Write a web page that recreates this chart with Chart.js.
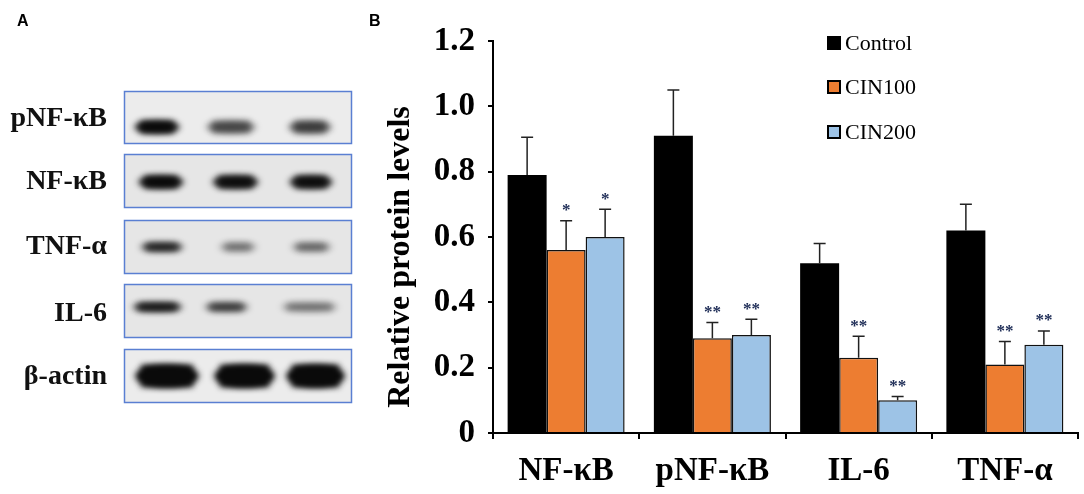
<!DOCTYPE html>
<html>
<head>
<meta charset="utf-8">
<script src="https://cdn.jsdelivr.net/npm/chart.js@4.4.1/dist/chart.umd.min.js"></script>
<style>
  html, body { margin: 0; padding: 0; background: #fff; }
  #wrap { position: relative; width: 1084px; height: 494px; overflow: hidden; }
  #blot { position: absolute; left: 0; top: 0; }
  #chart { position: absolute; left: 370px; top: 0; }
  .panel { position: absolute; font: bold 16px "Liberation Sans", Arial, sans-serif; }
  .blotLabel {
    position: absolute; right: 977px; width: 120px; text-align: right;
    font: bold 28px "Liberation Serif", "Times New Roman", serif;
    line-height: 28px; color: #111;
  }
</style>
</head>
<body>
<div id="wrap">
  <canvas id="blot" width="370" height="494"></canvas>
  <canvas id="chart" width="714" height="494"></canvas>
  <div class="panel" style="left:17px;top:12px">A</div>
  <div class="panel" style="left:369px;top:12px">B</div>
</div>
<script>
// ───────────────
// Panel B data
const categories    = ['NF-κB', 'pNF-κB', 'IL-6', 'TNF-α'];
const seriesNames   = ['Control', 'CIN100', 'CIN200'];
const controlValues = [0.79, 0.91, 0.52, 0.62];
const cin100Values  = [0.56, 0.29, 0.23, 0.21];
const cin200Values  = [0.60, 0.30, 0.10, 0.27];
const controlErrors = [0.115, 0.14, 0.06, 0.08];
const cin100Errors  = [0.09, 0.048, 0.066, 0.07];
const cin200Errors  = [0.085, 0.048, 0.012, 0.042];
const controlMarks  = ['', '', '', ''];
const cin100Marks   = ['*', '**', '**', '**'];
const cin200Marks   = ['*', '**', '**', '**'];
const yTickValues   = [0, 0.2, 0.4, 0.6, 0.8, 1.0, 1.2];
const yTitle        = 'Relative protein levels';

// Panel A: blot rows and relative band darkness per lane
const blotRows   = ['pNF-κB', 'NF-κB', 'TNF-α', 'IL-6', 'β-actin'];
const bandLevels = [
  [0.95, 0.5, 0.55],
  [0.95, 0.9, 0.9],
  [0.75, 0.35, 0.4],
  [0.85, 0.6, 0.35],
  [1.0, 1.0, 1.0]
];

// ───────────────
// Panel A drawing (plain canvas)
const rowBoxes  = [[91, 143], [154, 207], [220, 273], [284, 337], [349, 402]];
const bandY     = [127, 182, 247, 307, 376];
const bandThick = [12, 12, 8, 8, 22];
const laneSpans = [
  [[134, 180], [206, 256], [288, 332]],
  [[138, 184], [212, 259], [289, 333]],
  [[140, 184], [219, 257], [291, 332]],
  [[132, 183], [204, 249], [281, 338]],
  [[135, 199], [214, 275], [286, 345]]
];

function drawBlot() {
  const c = document.getElementById('blot').getContext('2d');
  rowBoxes.forEach(([y0, y1], r) => {
    c.fillStyle = r === 0 || r === 4 ? '#ececec' : '#e6e6e6';
    c.fillRect(124, y0, 228, y1 - y0);
    c.save();
    c.beginPath();
    c.rect(124, y0, 228, y1 - y0);
    c.clip();
    c.filter = 'blur(3px)';
    laneSpans[r].forEach(([x0, x1], i) => {
      const a = bandLevels[r][i];
      c.fillStyle = `rgba(10,10,10,${a})`;
      const h = bandThick[r];
      c.beginPath();
      c.ellipse((x0 + x1) / 2, bandY[r], (x1 - x0) / 2, h / 2, 0, 0, Math.PI * 2);
      c.fill();
      c.fillRect(x0 + 6, bandY[r] - h / 2, x1 - x0 - 12, h);
    });
    c.restore();
    c.strokeStyle = '#5a7fd2';
    c.lineWidth = 1.5;
    c.strokeRect(124.5, y0 + 0.5, 227, y1 - y0);
  });
  // row labels as real text
  const centers = [117, 180, 245, 312, 375];
  blotRows.forEach((txt, i) => {
    const d = document.createElement('div');
    d.className = 'blotLabel';
    d.style.top = (centers[i] - 14) + 'px';
    d.textContent = txt;
    document.getElementById('wrap').appendChild(d);
  });
}
drawBlot();

// ───────────────
// Error bars + significance stars
const errorSets = [controlErrors, cin100Errors, cin200Errors];
const markSets  = [controlMarks, cin100Marks, cin200Marks];

const errorBarPlugin = {
  id: 'errorBars',
  afterDatasetsDraw(chart) {
    const { ctx } = chart;
    const y = chart.scales.y;
    chart.data.datasets.forEach((ds, di) => {
      const meta = chart.getDatasetMeta(di);
      meta.data.forEach((bar, i) => {
        const top = y.getPixelForValue(ds.data[i] + errorSets[di][i]);
        ctx.save();
        ctx.strokeStyle = '#222';
        ctx.lineWidth = 1.5;
        ctx.beginPath();
        ctx.moveTo(bar.x, bar.y);
        ctx.lineTo(bar.x, top);
        ctx.moveTo(bar.x - 6, top);
        ctx.lineTo(bar.x + 6, top);
        ctx.stroke();
        const mark = markSets[di][i];
        if (mark) {
          ctx.fillStyle = '#1c2b55';
          ctx.font = 'bold 17px "Liberation Serif", serif';
          ctx.textAlign = 'center';
          ctx.textBaseline = 'middle';
          ctx.fillText(mark, bar.x, top - 10);
        }
        ctx.restore();
      });
    });
  }
};

// Legend drawn as a vertical list in the upper middle, plus the y title
const legendPlugin = {
  id: 'sideLegend',
  afterDraw(chart) {
    const { ctx } = chart;
    const rowsY = [43, 87, 132];
    chart.data.datasets.forEach((ds, i) => {
      ctx.save();
      ctx.fillStyle = ds.backgroundColor;
      ctx.strokeStyle = '#000';
      ctx.lineWidth = 2;
      ctx.fillRect(458, rowsY[i] - 6, 12, 12);
      ctx.strokeRect(458, rowsY[i] - 6, 12, 12);
      ctx.fillStyle = '#000';
      ctx.font = '22px "Liberation Serif", serif';
      ctx.textBaseline = 'middle';
      ctx.fillText(ds.label, 475, rowsY[i] + 1);
      ctx.restore();
    });
    ctx.save();
    ctx.translate(31, 257);
    ctx.rotate(-Math.PI / 2);
    ctx.fillStyle = '#000';
    ctx.font = 'bold 32px "Liberation Serif", serif';
    ctx.textAlign = 'center';
    ctx.textBaseline = 'middle';
    ctx.fillText(yTitle, 0, 0);
    ctx.restore();
  }
};

const tickFont = { family: '"Liberation Serif", "Times New Roman", serif', weight: 'bold', size: 33 };

new Chart(document.getElementById('chart'), {
  type: 'bar',
  data: {
    labels: categories,
    datasets: [
      { label: seriesNames[0], data: controlValues, backgroundColor: '#000000', borderColor: '#000', borderWidth: 0 },
      { label: seriesNames[1], data: cin100Values, backgroundColor: '#ed7d31', borderColor: '#111', borderWidth: 1.5 },
      { label: seriesNames[2], data: cin200Values, backgroundColor: '#9dc3e6', borderColor: '#111', borderWidth: 1.5 }
    ]
  },
  options: {
    responsive: false,
    animation: false,
    devicePixelRatio: 1,
    layout: { padding: { left: 10, right: 6, top: 41, bottom: 0 } },
    datasets: { bar: { categoryPercentage: 0.8, barPercentage: 1.0 } },
    plugins: { legend: { display: false }, tooltip: { enabled: false } },
    scales: {
      x: {
        grid: { drawOnChartArea: false, offset: true, tickLength: 6, color: '#000', lineWidth: 2 },
        border: { color: '#000', width: 2 },
        ticks: { color: '#000', font: tickFont, padding: 13, maxRotation: 0 },
        afterFit: s => { s.height = 61; }
      },
      y: {
        min: 0,
        max: 1.2,
        afterBuildTicks: s => { s.ticks = yTickValues.map(v => ({ value: v })); },
        grid: { drawOnChartArea: false, tickLength: 5, color: '#000', lineWidth: 2 },
        border: { color: '#000', width: 2 },
        ticks: {
          color: '#000', font: tickFont, padding: 13,
          callback: v => (v === 0 ? '0' : v.toFixed(1))
        },
        afterFit: s => { s.width = 113; }
      }
    }
  },
  plugins: [errorBarPlugin, legendPlugin]
});
</script>
</body>
</html>
